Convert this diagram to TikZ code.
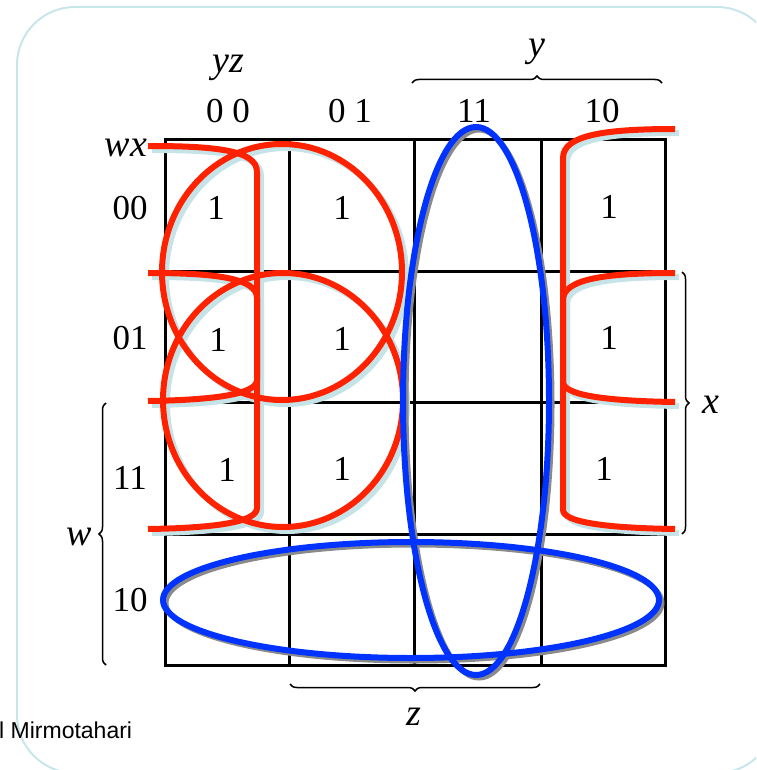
\documentclass[tikz,border=0pt]{standalone}
\usepackage{fontspec}
\setmainfont{Liberation Serif}
\newfontfamily\labelsans{Liberation Sans}
\usetikzlibrary{decorations.pathreplacing}
\definecolor{loopred}{HTML}{FF2200}
\definecolor{loopblue}{HTML}{0033FF}
\definecolor{shadowcyan}{HTML}{C6E4E8}
\definecolor{framecyan}{HTML}{C8E6EA}
\definecolor{shadowgray}{HTML}{8A8A8A}
\begin{document}
\begin{tikzpicture}[x=1pt,y=-1pt,
  digit/.style={font=\fontsize{35}{40}\selectfont, inner sep=0pt},
  var/.style={font=\fontsize{38}{44}\selectfont\itshape, inner sep=0pt, anchor=base},
  gridline/.style={line width=3pt, black},
  redloop/.style={draw=loopred, line width=6pt},
  redshadow/.style={draw=shadowcyan, line width=6pt},
  blueloop/.style={draw=loopblue, line width=6pt},
  blueshadow/.style={draw=shadowgray, line width=5pt},
  bracestyle/.style={decorate, decoration={brace, amplitude=7pt}, line width=1.5pt},
]
\useasboundingbox (0,0) rectangle (756,770);
\begin{scope}
  \clip (0,0) rectangle (756,770);
  \draw[framecyan, line width=2pt, rounded corners=58pt] (17,7) rectangle (775,773);
\end{scope}

% grid
\draw[gridline] (165,140) rectangle (665,665);
\foreach \xx in {289,414,541} \draw[gridline] (\xx,140) -- (\xx,665);
\foreach \yy in {271,402,534} \draw[gridline] (165,\yy) -- (665,\yy);

% header labels
\node[var] (yz) at (228,73) {yz};
\node[var] (yv) at (537,57) {y};
\node[digit] (c00) at (228,111) {0 0};
\node[digit] (c01) at (350,111) {0 1};
\node[digit] (c11) at (474,111) {11};
\node[digit] (c10) at (602,111) {10};
\node[var] (wx) at (126,157) {wx};
\node[digit] (r00) at (130,208) {00};
\node[digit] (r01) at (130,338) {01};
\node[digit] (r11) at (130,478) {11};
\node[digit] (r10) at (130,600) {10};
\node[var] (wv) at (79,545) {w};
\node[var] (xv) at (711,413) {x};
\node[var] (zv) at (414,725) {z};

% cell entries
\node[digit] (m00) at (216,208) {1};
\node[digit] (m01) at (342,208) {1};
\node[digit] (m03) at (609,207) {1};
\node[digit] (m10) at (218,340) {1};
\node[digit] (m11) at (342,339) {1};
\node[digit] (m13) at (609,338) {1};
\node[digit] (m20) at (227,470) {1};
\node[digit] (m21) at (342,469) {1};
\node[digit] (m23) at (604,469) {1};

% braces
\coordinate (ya) at (412,83); \coordinate (yb) at (662,83);
\coordinate (xa) at (682,272); \coordinate (xb) at (682,534);
\coordinate (za) at (540,684); \coordinate (zb) at (290,684);
\coordinate (wa) at (106,665); \coordinate (wb) at (106,403);
\draw[bracestyle] (ya) -- (yb);
\draw[bracestyle] (xa) -- (xb);
\draw[bracestyle] (za) -- (zb);
\draw[bracestyle] (wa) -- (wb);

% red loops: shadows
\begin{scope}[shift={(4,4)}]
  \draw[redshadow] (282,272) ellipse [x radius=120, y radius=128];
  \draw[redshadow] (283,400) ellipse [x radius=120, y radius=127];
  \draw[redshadow] (148,146) .. controls (215,146) and (257,150) .. (257,172) -- (257,380) .. controls (257,394) and (215,400) .. (148,401);
  \draw[redshadow] (148,273) .. controls (215,273) and (257,278) .. (257,298) -- (257,508) .. controls (257,522) and (215,528) .. (148,529);
  \draw[redshadow] (675,129) .. controls (605,129) and (563,135) .. (563,158) -- (563,382) .. controls (563,395) and (605,401) .. (675,402);
  \draw[redshadow] (675,273) .. controls (605,273) and (563,279) .. (563,300) -- (563,510) .. controls (563,522) and (605,528) .. (675,529);
\end{scope}
% red loops
\draw[redloop] (282,272) ellipse [x radius=120, y radius=128];
\draw[redloop] (283,400) ellipse [x radius=120, y radius=127];
\draw[redloop] (148,146) .. controls (215,146) and (257,150) .. (257,172) -- (257,380) .. controls (257,394) and (215,400) .. (148,401);
\draw[redloop] (148,273) .. controls (215,273) and (257,278) .. (257,298) -- (257,508) .. controls (257,522) and (215,528) .. (148,529);
\draw[redloop] (675,129) .. controls (605,129) and (563,135) .. (563,158) -- (563,382) .. controls (563,395) and (605,401) .. (675,402);
\draw[redloop] (675,273) .. controls (605,273) and (563,279) .. (563,300) -- (563,510) .. controls (563,522) and (605,528) .. (675,529);

% blue loops
\begin{scope}[shift={(3,3)}]
  \draw[blueshadow] (476,401) ellipse [x radius=73, y radius=274];
  \draw[blueshadow] (411,600) ellipse [x radius=248, y radius=58];
\end{scope}
\draw[blueloop] (476,401) ellipse [x radius=73, y radius=274];
\draw[blueloop] (411,600) ellipse [x radius=248, y radius=58];

% footer
\node[font=\labelsans\fontsize{23}{27}\selectfont, inner sep=0pt, anchor=base west] (credit) at (-1,738) {l Mirmotahari};
\end{tikzpicture}
\end{document}
